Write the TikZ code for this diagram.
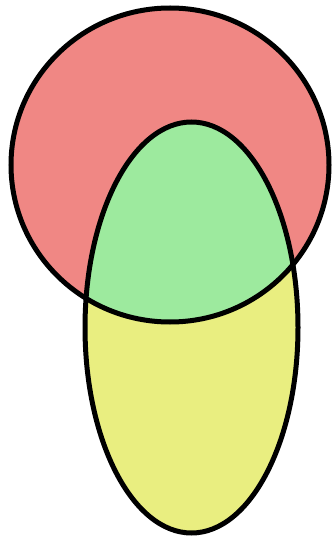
\documentclass[tikz,border=0pt]{standalone}
\usepackage{tikz}
\definecolor{setred}   {RGB}{240, 135, 132}
\definecolor{setgreen} {RGB}{157, 234, 158}
\definecolor{setyellow}{RGB}{233, 238, 128}
\begin{document}
\begin{tikzpicture}[x=1pt,y=-1pt]
	\useasboundingbox (0,0) rectangle (334,540);
	\fill[setred] (170,165) ellipse (159 and 157);
	\fill[setyellow] (191.5,327.5) ellipse (106.5 and 205.5);
	\begin{scope}
		\clip (170,165) ellipse (159 and 157);
		\fill[setgreen] (191.5,327.5) ellipse (106.5 and 205.5);
	\end{scope}
	\draw[line width=5pt] (170,165) ellipse (159 and 157);
	\draw[line width=5pt] (191.5,327.5) ellipse (106.5 and 205.5);
\end{tikzpicture}
\end{document}
